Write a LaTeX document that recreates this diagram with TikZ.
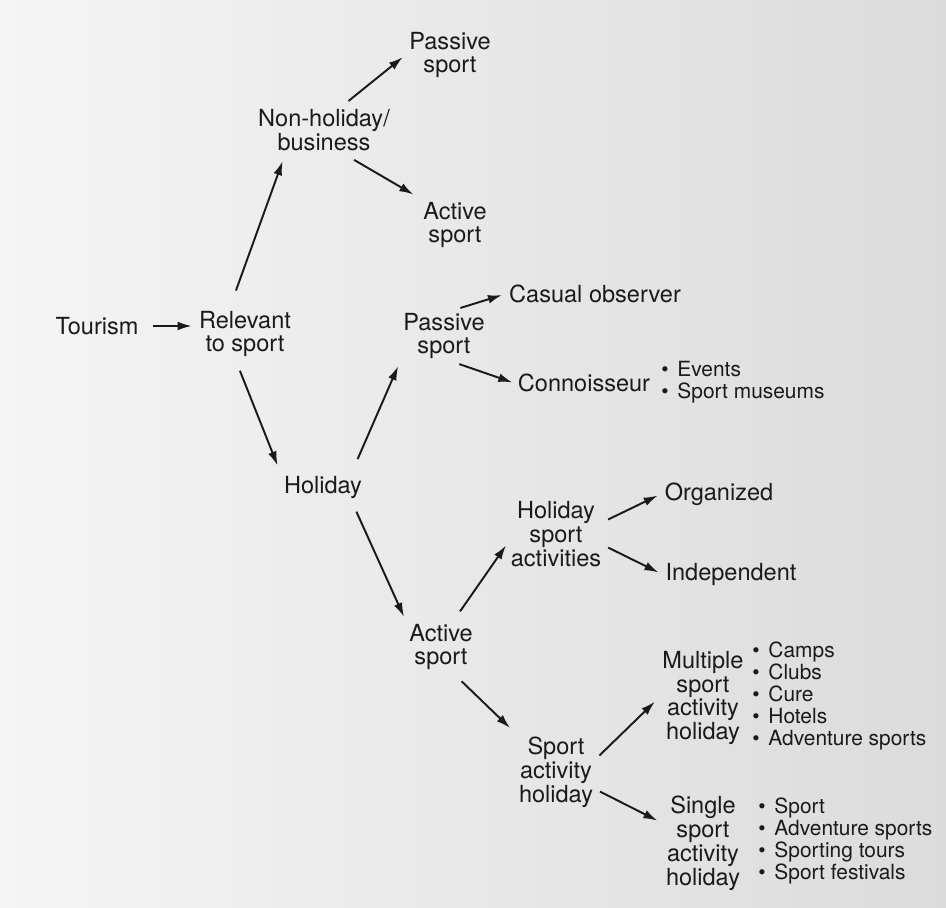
\documentclass[tikz,border=0pt]{standalone}
\usepackage{fontspec}
\setmainfont{TeX Gyre Heros}
\usetikzlibrary{arrows.meta, positioning}
\definecolor{ink}{HTML}{1A1A1A}
\tikzstyle{arrow} = [line width=1.1pt, draw=ink, -{Latex[length=8pt, width=5pt]}]
\tikzstyle{box} = [align=center, inner sep=2pt, text=ink, font=\fontsize{13.4}{13.6}\selectfont]
\tikzstyle{list} = [inner sep=0pt, text=ink, anchor=west, font=\fontsize{11.9}{12.2}\selectfont]

\begin{document}
\begin{tikzpicture}[x=0.02cm, y=-0.02cm]
                    \useasboundingbox (0,0) rectangle (946,908);
                    \fill[left color=black!4, right color=black!14] (0,0) rectangle (946,908);
                    % first level
                    \node[box] (tourism) at (97,326) {Tourism};
                    \node[box] (relevant) at (245,334) {Relevant\\to sport};
                    % non-holiday branch
                    \node[box] (nonhol) at (324,130) {Non-holiday/\\business};
                    \node[box] (passA) at (450,55) {Passive\\sport};
                    \node[box] (actA) at (455,225) {Active\\sport};
                    % holiday branch
                    \node[box] (holiday) at (323,487) {Holiday};
                    \node[box] (passB) at (444,336) {Passive\\sport};
                    \node[box] (casual) at (595,294) {Casual observer};
                    \node[box] (conn) at (584,383) {Connoisseur};
                    \node[list] (connlist) at (661,383) {\begin{tabular}{@{}c@{\hspace{5pt}}l@{}}\textbullet & Events\\ \textbullet & Sport museums\end{tabular}};
                    \node[box] (actB) at (441,647) {Active\\sport};
                    \node[box] (hsa) at (556,534) {Holiday\\sport\\activities};
                    \node[box] (organized) at (719,494) {Organized};
                    \node[box] (indep) at (731,574) {Independent};
                    \node[box] (sah) at (556,772) {Sport\\activity\\holiday};
                    \node[box] (multi) at (703,698) {Multiple\\sport\\activity\\holiday};
                    \node[list] (multilist) at (752,697) {\begin{tabular}{@{}c@{\hspace{5pt}}l@{}}\textbullet & Camps\\ \textbullet & Clubs\\ \textbullet & Cure\\ \textbullet & Hotels\\ \textbullet & Adventure sports\end{tabular}};
                    \node[box] (single) at (703,843) {Single\\sport\\activity\\holiday};
                    \node[list] (singlelist) at (758,842) {\begin{tabular}{@{}c@{\hspace{5pt}}l@{}}\textbullet & Sport\\ \textbullet & Adventure sports\\ \textbullet & Sporting tours\\ \textbullet & Sport festivals\end{tabular}};
                    % arrows
                    \draw[arrow, shorten <=6pt, shorten >=2pt] (tourism.east) -- (relevant.west |- tourism.east);
                    \draw[arrow, shorten <=10pt, shorten >=4pt] ([xshift=-0.3cm]relevant.north) -- ([xshift=-0.78cm]nonhol.south);
                    \draw[arrow, shorten <=4pt, shorten >=2pt] ([xshift=0.38cm]nonhol.north) -- (passA.west);
                    \draw[arrow, shorten <=6pt, shorten >=4pt] ([xshift=0.42cm]nonhol.south) -- (actA.north west);
                    \draw[arrow, shorten <=6pt, shorten >=4pt] ([xshift=-0.18cm]relevant.south) -- (holiday.north west);
                    \draw[arrow, shorten <=8pt, shorten >=2pt] ([xshift=0.58cm]holiday.north) -- (passB.south west);
                    \draw[arrow, shorten <=6pt, shorten >=2pt] ([xshift=0.58cm]holiday.south) -- (actB.north west);
                    \draw[arrow, shorten <=2pt, shorten >=2pt] ([xshift=0.26cm]passB.north) -- (casual.west);
                    \draw[arrow, shorten <=2pt, shorten >=1pt] ([xshift=0.24cm]passB.south) -- (conn.west);
                    \draw[arrow, shorten <=6pt, shorten >=1pt] ([xshift=0.26cm]actB.north) -- ([yshift=-0.2cm]hsa.west);
                    \draw[arrow, shorten <=2pt, shorten >=2pt] ([yshift=0.26cm]hsa.east) -- (organized.west);
                    \draw[arrow, shorten <=2pt, shorten >=2pt] ([yshift=-0.24cm]hsa.east) -- (indep.west);
                    \draw[arrow, shorten <=6pt, shorten >=4pt] ([xshift=0.26cm]actB.south) -- (sah.north west);
                    \draw[arrow, shorten <=2pt, shorten >=3pt] ([yshift=0.28cm]sah.east) -- (multi.west);
                    \draw[arrow, shorten <=2pt, shorten >=3pt] ([yshift=-0.36cm]sah.east) -- ([yshift=0.4cm]single.west);
                \end{tikzpicture}
\end{document}
